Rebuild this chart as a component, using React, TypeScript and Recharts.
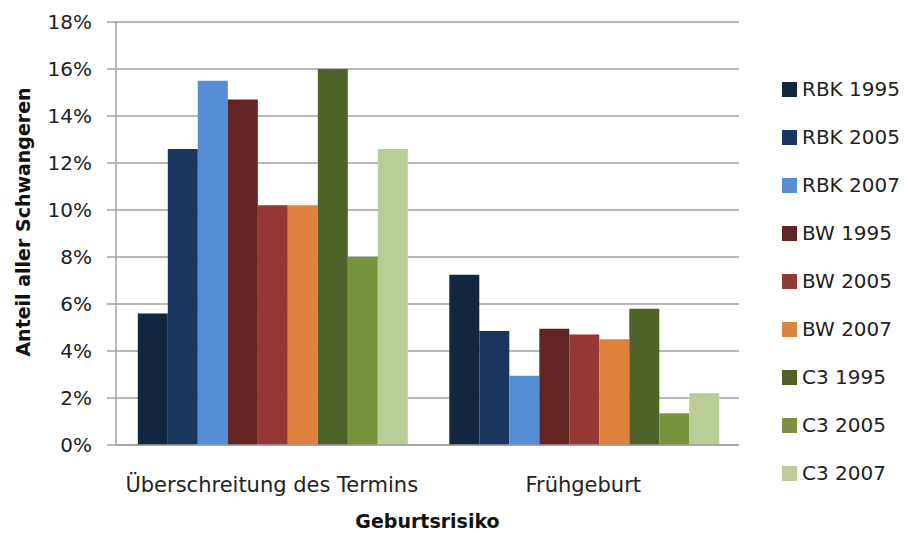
import React from 'react';
import { BarChart, Bar, XAxis, YAxis, CartesianGrid, Legend, Label } from 'recharts';

const categories = ['Überschreitung des Termins', 'Frühgeburt'];

const seriesNames = [
  'RBK 1995', 'RBK 2005', 'RBK 2007',
  'BW 1995', 'BW 2005', 'BW 2007',
  'C3 1995', 'C3 2005', 'C3 2007',
];

// values in percent, one entry per category
const rbk1995 = [5.6, 7.25];
const rbk2005 = [12.6, 4.85];
const rbk2007 = [15.5, 2.95];
const bw1995 = [14.7, 4.95];
const bw2005 = [10.2, 4.7];
const bw2007 = [10.2, 4.5];
const c31995 = [16.0, 5.8];
const c32005 = [8.0, 1.35];
const c32007 = [12.6, 2.2];

const yTicks = [0, 2, 4, 6, 8, 10, 12, 14, 16, 18];

const COLORS = [
  '#12263F', '#17375E', '#558ED5',
  '#632523', '#953735', '#DD833D',
  '#4F6228', '#77933C', '#B9CD96',
];

const seriesValues = [rbk1995, rbk2005, rbk2007, bw1995, bw2005, bw2007, c31995, c32005, c32007];

const chartData = categories.map((cat, i) => {
  const row: Record<string, string | number> = { name: cat };
  seriesNames.forEach((s, j) => {
    row[s] = seriesValues[j][i];
  });
  return row;
});

const FONT = '"DejaVu Sans", Arial, sans-serif';

const renderLegend = () => (
  <div style={{ fontFamily: FONT, fontSize: 20, color: '#222' }}>
    {seriesNames.map((s, i) => (
      <div key={s} style={{ display: 'flex', alignItems: 'center', height: 48, whiteSpace: 'nowrap' }}>
        <span
          style={{
            display: 'inline-block',
            width: 15,
            height: 15,
            background: COLORS[i],
            marginRight: 5,
          }}
        />
        <span>{s}</span>
      </div>
    ))}
  </div>
);

const YLabel = () => (
  <text
    x={23}
    y={222}
    transform="rotate(-90 23 222)"
    textAnchor="middle"
    dominantBaseline="central"
    fontFamily={FONT}
    fontSize={19}
    fontWeight="bold"
    fill="#111"
  >
    Anteil aller Schwangeren
  </text>
);

export default function App() {
  return (
    <div style={{ position: 'absolute', left: 0, top: 0, background: '#fff' }}>
      <BarChart
        width={907}
        height={534}
        data={chartData}
        margin={{ top: 22, right: 43, bottom: 0, left: 0 }}
        barCategoryGap="7%"
        barGap={0}
      >
        <CartesianGrid vertical={false} stroke="#A0A0A0" strokeWidth={1.5} />
        <XAxis
          dataKey="name"
          tickLine={false}
          axisLine={{ stroke: '#A0A0A0', strokeWidth: 1.5 }}
          tickMargin={26}
          height={89}
          tick={{ fontFamily: FONT, fontSize: 21, fill: '#222' }}
        >
          <Label
            value="Geburtsrisiko"
            position="insideBottom"
            offset={6}
            style={{ fontFamily: FONT, fontSize: 19, fontWeight: 'bold', fill: '#111' }}
          />
        </XAxis>
        <YAxis
          domain={[0, 18]}
          ticks={yTicks}
          tickFormatter={(v: number) => `${v}%`}
          width={116}
          tickSize={9}
          tickMargin={15}
          axisLine={{ stroke: '#A0A0A0', strokeWidth: 1.5 }}
          tickLine={{ stroke: '#A0A0A0', strokeWidth: 1.5 }}
          tick={{ fontFamily: FONT, fontSize: 20, fill: '#222' }}
        >
          <Label content={<YLabel />} />
        </YAxis>
        <Legend
          layout="horizontal"
          verticalAlign="middle"
          align="right"
          content={renderLegend}
          wrapperStyle={{ left: 782, top: 65, width: 125, height: 'auto' }}
        />
        {seriesNames.map((s, i) => (
          <Bar key={s} dataKey={s} fill={COLORS[i]} isAnimationActive={false} />
        ))}
      </BarChart>
    </div>
  );
}
